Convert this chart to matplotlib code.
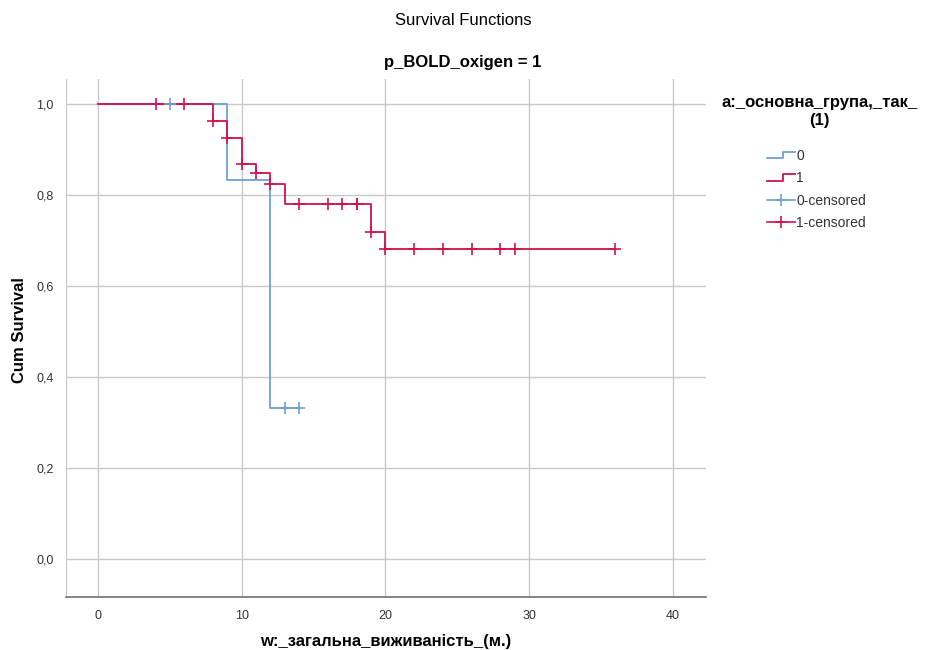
import numpy as np
import matplotlib
matplotlib.use("Agg")
import matplotlib.pyplot as plt
from matplotlib.lines import Line2D
from matplotlib.legend_handler import HandlerBase

# --- дані ---
# група 0 (синя): моменти подій та кумулятивна виживаність
blue_times = [0, 9, 12, 14]
blue_surv = [1.0, 0.833, 0.333, 0.333]
blue_cens = [5, 13, 14]

# група 1 (червона)
red_times = [0, 8, 9, 10, 11, 12, 13, 19, 20, 36]
red_surv = [1.0, 0.963, 0.926, 0.868, 0.848, 0.825, 0.781, 0.718, 0.681, 0.681]
red_cens = [4, 6, 8, 9, 10, 11, 12, 14, 16, 17, 18, 18, 19, 20, 22, 24, 26, 28, 29, 36]

x_ticks = [0, 10, 20, 30, 40]
y_ticks = [0.0, 0.2, 0.4, 0.6, 0.8, 1.0]
y_labels = ["0,0", "0,2", "0,4", "0,6", "0,8", "1,0"]
legend_labels = ["0", "1", "0-censored", "1-censored"]

BLUE = "#6f9fd6"
RED = "#d0134a"
GRID = "#c8c8c8"

plt.rcParams['font.family'] = ['Liberation Sans Narrow', 'Liberation Sans', 'DejaVu Sans']


def level_at(times, surv, t):
    # значення ступінчастої функції у момент t
    idx = np.searchsorted(times, t, side='right') - 1
    return np.asarray(surv)[idx]


class StepHandler(HandlerBase):
    # маркер легенди у вигляді сходинки
    def create_artists(self, legend, orig, xd, yd, w, h, fontsize, trans):
        xs = [xd, xd + w * 0.55, xd + w * 0.55, xd + w]
        ys = [yd + h * 0.15, yd + h * 0.15, yd + h * 0.85, yd + h * 0.85]
        ln = Line2D(xs, ys, color=orig.get_color(), lw=1.3, transform=trans)
        return [ln]


fig = plt.figure(figsize=(9.3, 6.5), dpi=100)
ax = fig.add_axes([0.071, 0.0815, 0.688, 0.797])

ax.step(blue_times, blue_surv, where='post', color=BLUE, lw=1.3, zorder=3)
ax.step(red_times, red_surv, where='post', color=RED, lw=1.3, zorder=4)

ax.plot(blue_cens, level_at(blue_times, blue_surv, blue_cens), ls='none',
        marker='+', ms=9, mew=1.2, color=BLUE, zorder=5)
ax.plot(red_cens, level_at(red_times, red_surv, red_cens), ls='none',
        marker='+', ms=9, mew=1.2, color=RED, zorder=6)

ax.set_xlim(-2.23, 42.3)
ax.set_ylim(-0.0835, 1.055)
ax.set_xticks(x_ticks)
ax.set_yticks(y_ticks)
ax.set_yticklabels(y_labels)
ax.tick_params(length=0, labelsize=9, colors='#333333')
ax.tick_params(axis='x', pad=9)
ax.tick_params(axis='y', pad=9)
ax.grid(True, color=GRID, lw=1)
ax.set_axisbelow(True)

for s in ['top', 'right']:
    ax.spines[s].set_visible(False)
ax.spines['left'].set_color(GRID)
ax.spines['bottom'].set_color('#707070')
ax.spines['bottom'].set_linewidth(1.2)

ax.set_xlabel("w:_загальна_виживаність_(м.)", fontsize=12, fontweight='bold', labelpad=9)
ax.set_ylabel("Cum Survival", fontsize=12, fontweight='bold')
ax.yaxis.set_label_coords(-0.061, 0.515)

fig.text(0.498, 0.969, "Survival Functions", ha='center', va='center', fontsize=12)
fig.text(0.498, 0.904, "p_BOLD_oxigen = 1", ha='center', va='center', fontsize=12,
         fontweight='bold')

# заголовок легенди
fig.text(0.881, 0.829, "a:_основна_група,_так_\n(1)", ha='center', va='center',
         multialignment='center', fontsize=12, fontweight='bold', linespacing=1.25)

h0 = Line2D([], [], color=BLUE)
h1 = Line2D([], [], color=RED)
h2 = Line2D([], [], color=BLUE, marker='+', ms=9, mew=1.2, lw=1.2)
h3 = Line2D([], [], color=RED, marker='+', ms=9, mew=1.2, lw=1.2)
leg = fig.legend([h0, h1, h2, h3], legend_labels,
                 handler_map={h0: StepHandler(), h1: StepHandler()},
                 loc='upper left', bbox_to_anchor=(0.825, 0.771), frameon=False,
                 borderpad=0, borderaxespad=0,
                 fontsize=10, handlelength=2.0, handletextpad=0.1, labelspacing=0.6)
for t in leg.get_texts():
    t.set_color('#333333')

fig.savefig("out.png", dpi=100)
